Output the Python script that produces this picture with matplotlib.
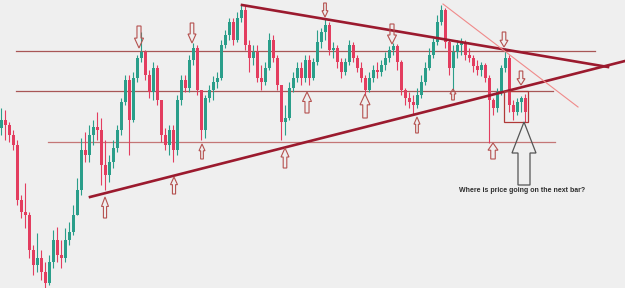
import matplotlib
matplotlib.use("Agg")
import matplotlib.pyplot as plt
from matplotlib.patches import Polygon, Rectangle

# ---- data (price units, arbitrary scale) ----
first_open = 160
closes = [168,163,153,143,88,76,73,38,23,30,16,5,26,48,33,30,48,56,73,98,
          138,133,153,161,158,123,113,126,140,158,186,208,168,210,230,236,213,196,220,188,
          153,143,158,138,188,208,200,228,240,198,158,190,198,206,210,243,253,266,248,270,
          278,243,230,236,210,206,220,248,230,203,166,170,200,210,220,210,228,210,226,246,
          256,263,238,240,226,216,226,243,230,220,210,198,210,218,216,223,230,238,242,226,
          198,190,186,183,193,206,220,233,246,266,278,246,220,236,243,246,233,230,222,218,
          223,210,188,180,196,220,230,183,176,186,190,176]
highs = [180,178,166,158,148,93,105,76,43,55,38,26,33,58,61,48,60,66,83,110,
         150,156,163,168,176,170,148,133,148,163,190,213,213,216,233,256,238,218,226,223,
         188,160,163,163,193,213,213,233,245,243,196,193,203,212,216,248,258,270,270,276,
         283,282,248,243,243,223,226,255,253,233,203,183,206,216,226,226,233,233,230,258,
         260,270,266,246,243,230,230,248,246,233,226,213,216,223,226,228,236,242,245,244,
         228,200,196,193,200,213,226,240,250,273,283,280,248,243,248,250,248,240,233,228,
         226,225,213,190,200,223,240,233,188,190,192,194]
lows = [153,148,146,138,83,70,60,30,13,16,8,0,3,20,26,20,26,43,53,78,
        93,126,126,143,148,103,98,106,120,136,153,183,133,166,206,226,208,190,188,183,
        146,138,133,126,133,183,196,196,223,193,148,150,186,188,200,208,240,248,243,246,
        266,238,216,223,206,198,203,218,226,198,148,153,168,196,206,203,206,203,208,223,
        240,248,233,230,220,210,213,223,226,216,206,193,196,206,210,212,218,226,233,218,
        193,183,180,173,180,190,203,218,230,243,263,240,213,198,230,233,228,226,216,213,
        212,206,145,173,176,193,216,176,168,173,176,166]

note_text = "Where is price going on the next bar?"

# ---- figure ----
W, H = 625, 288
fig = plt.figure(figsize=(W/100, H/100), dpi=100)
bg = "#efefef"
fig.patch.set_facecolor(bg)
ax = fig.add_axes([0, 0, 1, 1])
ax.set_facecolor(bg)
ax.set_xlim(-0.25, W/4 - 0.25)
ax.set_ylim(0, H)
ax.axis("off")

def P(x, y):
    """pixel position of an annotation -> data coords"""
    return (x/4 - 0.25, H - y)

# ---- candles ----
opens = [first_open] + closes[:-1]
up_c, dn_c = "#2a9e8a", "#e33d5f"
xs = list(range(len(closes)))
cols = [up_c if c >= o else dn_c for o, c in zip(opens, closes)]
ax.vlines(xs, [min(l, o, c) for l, o, c in zip(lows, opens, closes)],
          [max(h, o, c) for h, o, c in zip(highs, opens, closes)],
          colors=cols, lw=0.8, zorder=3)
ax.bar(xs, [max(abs(c - o), 1.2) for o, c in zip(opens, closes)],
       bottom=[min(o, c) for o, c in zip(opens, closes)],
       width=0.75, color=cols, lw=0, zorder=4)

# ---- horizontal levels ----
def seg(x0, y0, x1, y1, **kw):
    a, b = P(x0, y0), P(x1, y1)
    ax.plot([a[0], b[0]], [a[1], b[1]], **kw)

seg(16, 51, 595, 51, color="#a85656", lw=0.9, zorder=2)
seg(16, 91, 553, 91, color="#a85656", lw=0.9, zorder=2)
seg(48, 142, 555, 142, color="#c47676", lw=0.9, zorder=2)

# ---- trendlines ----
seg(242, 5, 608, 67, color="#9b1a2e", lw=1.9, zorder=5)
seg(90, 197, 625, 61, color="#9b1a2e", lw=1.9, zorder=5)
seg(443, 4, 578, 107, color="#f08a8a", lw=0.8, zorder=5)

# ---- box ----
bx0, by1 = P(504, 122)
bx1, by0 = P(528, 91)
ax.add_patch(Rectangle((bx0, by1), bx1 - bx0, by0 - by1, fill=False,
                       ec="#b03838", lw=0.9, zorder=6))

# ---- small arrows ----
arrow_col = "#b5514f"
def arrow(cx, ya, yb, w, col=arrow_col, lw=0.8, sw=0.45):
    # ya: tail end, yb: tip (pixels)
    h = yb - ya
    head = ya + h * 0.55
    pts = [(cx - w*sw/2, ya), (cx + w*sw/2, ya), (cx + w*sw/2, head), (cx + w/2, head),
           (cx, yb), (cx - w/2, head), (cx - w*sw/2, head)]
    ax.add_patch(Polygon([P(x, y) for x, y in pts], closed=True, fill=False,
                         ec=col, lw=lw, zorder=7))

down_arrows = [(139, 26, 48, 9), (192, 23, 43, 8), (325, 3, 17, 6), (392, 24, 44, 9),
               (504, 32, 47, 8), (521, 71, 85, 8)]
up_arrows = [(105, 218, 197, 7), (174, 194, 177, 7), (202, 159, 144, 6), (285, 168, 148, 8),
             (307, 113, 92, 9), (365, 118, 94, 10), (417, 133, 117, 6), (453, 100, 89, 6),
             (493, 159, 143, 10)]
for cx, ya, yb, w in down_arrows + up_arrows:
    arrow(cx, ya, yb, w)

# ---- big question arrow ----
big = [(518, 185), (530, 185), (530, 153), (536, 153), (524, 122), (512, 153), (518, 153)]
ax.add_patch(Polygon([P(x, y) for x, y in big], closed=True, fill=False,
                     ec="#555555", lw=0.9, zorder=7))

tx, ty = P(522, 191)
ax.text(tx, ty, note_text, ha="center", va="center", fontsize=5,
        fontweight="bold", family="Liberation Sans", color="#2e2e2e", zorder=8)

fig.savefig("out.png", dpi=100, facecolor=bg)
